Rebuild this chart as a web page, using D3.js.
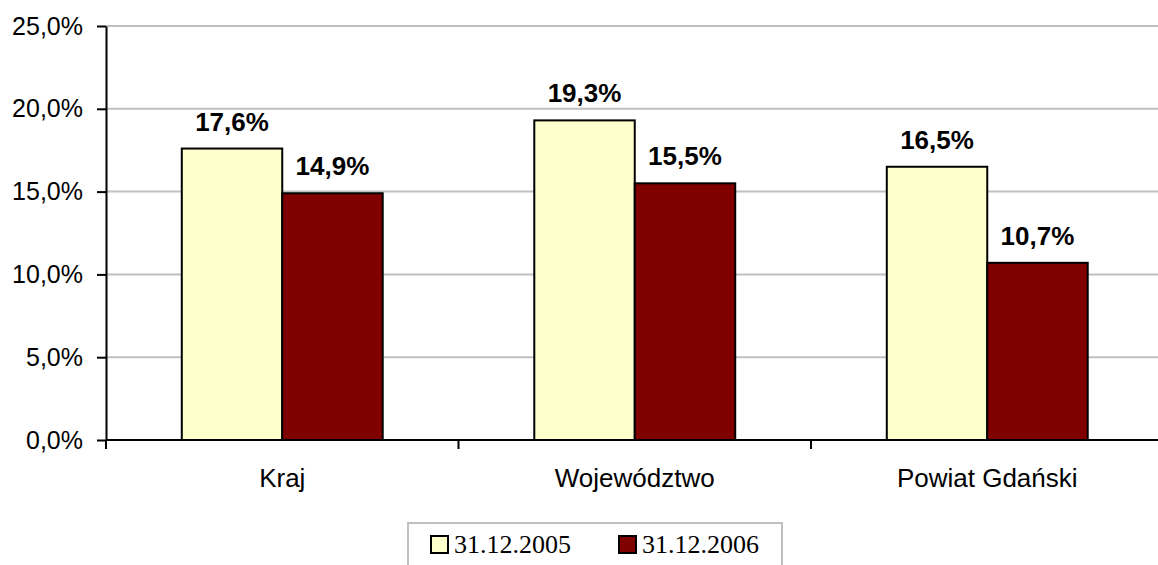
<!DOCTYPE html>
<html>
<head>
<meta charset="utf-8">
<script src="https://cdn.jsdelivr.net/npm/d3@7"></script>
<style>
  body { margin: 0; background: #fff; }
  svg { display: block; }
  .grid line { stroke: #c0c0c0; stroke-width: 2; }
  .axis path, .axis line { stroke: #000; stroke-width: 2; }
  .axis text { font-family: "Liberation Sans", Arial, sans-serif; font-size: 25px; fill: #000; }
  .axis .cl { font-size: 26px; }
  .val { font-family: "Liberation Sans", Arial, sans-serif; font-size: 26px; font-weight: bold; }
  .legend text { font-family: "Liberation Serif", "Times New Roman", serif; font-size: 26px; }
</style>
</head>
<body>
<script>
var width = 1158,
    height = 565;

// data
var categories = ["Kraj", "Województwo", "Powiat Gdański"];
var series = ["31.12.2005", "31.12.2006"];
var values2005 = [0.176, 0.193, 0.165];
var values2006 = [0.149, 0.155, 0.107];
var yTicks = [0, 0.05, 0.10, 0.15, 0.20, 0.25];
var colors = ["#ffffcc", "#800000"];

var margin = {top: 26, left: 106, bottom: 125};
var plotRight = 1163.5;

var pl = d3.formatLocale({decimal: ",", thousands: " ", grouping: [3], currency: ["", " zł"]});
var pct = pl.format(".1%");

var svg = d3.select("body").append("svg")
    .attr("width", width)
    .attr("height", height);

var y = d3.scaleLinear()
    .domain([0, 0.25])
    .range([height - margin.bottom, margin.top]);

var x0 = d3.scaleBand()
    .domain(categories)
    .range([margin.left, plotRight]);

var x1 = d3.scaleBand()
    .domain(series)
    .range([x0.bandwidth() * 0.215, x0.bandwidth() * 0.785]);

// gridlines
svg.append("g")
    .attr("class", "grid")
  .selectAll("line")
  .data(yTicks.slice(1))
  .enter().append("line")
    .attr("x1", margin.left)
    .attr("x2", plotRight)
    .attr("y1", function(d) { return y(d); })
    .attr("y2", function(d) { return y(d); });

var rows = categories.map(function(c, i) {
  return {cat: c, vals: [values2005[i], values2006[i]]};
});

var groups = svg.selectAll(".grp")
  .data(rows)
  .enter().append("g")
    .attr("class", "grp")
    .attr("transform", function(d) { return "translate(" + x0(d.cat) + ",0)"; });

groups.selectAll("rect")
  .data(function(d) { return d.vals.map(function(v, j) { return {s: series[j], v: v, j: j}; }); })
  .enter().append("rect")
    .attr("x", function(d) { return x1(d.s); })
    .attr("width", x1.bandwidth())
    .attr("y", function(d) { return y(d.v); })
    .attr("height", function(d) { return y(0) - y(d.v); })
    .attr("fill", function(d) { return colors[d.j]; })
    .attr("stroke", "#000")
    .attr("stroke-width", 2);

groups.selectAll("text")
  .data(function(d) { return d.vals.map(function(v, j) { return {s: series[j], v: v}; }); })
  .enter().append("text")
    .attr("class", "val")
    .attr("text-anchor", "middle")
    .attr("x", function(d) { return x1(d.s) + x1.bandwidth() / 2; })
    .attr("y", function(d) { return y(d.v) - 18; })
    .text(function(d) { return pct(d.v); });

// y axis
svg.append("g")
    .attr("class", "axis")
    .attr("transform", "translate(" + margin.left + ",0)")
    .call(d3.axisLeft(y).tickValues(yTicks).tickSize(9).tickSizeOuter(0).tickPadding(14).tickFormat(pct));

// x axis line and category ticks
var xa = svg.append("g").attr("class", "axis");
xa.append("line")
    .attr("x1", margin.left)
    .attr("x2", plotRight)
    .attr("y1", y(0))
    .attr("y2", y(0));
xa.selectAll(".ct")
  .data(categories.concat(["end"]))
  .enter().append("line")
    .attr("class", "ct")
    .attr("x1", function(d, i) { return margin.left + i * x0.bandwidth(); })
    .attr("x2", function(d, i) { return margin.left + i * x0.bandwidth(); })
    .attr("y1", y(0))
    .attr("y2", y(0) + 9);
xa.selectAll(".cl")
  .data(categories)
  .enter().append("text")
    .attr("class", "cl")
    .attr("text-anchor", "middle")
    .attr("x", function(d) { return x0(d) + x0.bandwidth() / 2; })
    .attr("y", 487)
    .text(function(d) { return d; });

// legend
var legend = svg.append("g").attr("class", "legend");
legend.append("rect")
    .attr("x", 408)
    .attr("y", 523)
    .attr("width", 374)
    .attr("height", 60)
    .attr("fill", "#fff")
    .attr("stroke", "#c0c0c0")
    .attr("stroke-width", 2);

var li = legend.selectAll(".li")
  .data(series)
  .enter().append("g")
    .attr("class", "li")
    .attr("transform", function(d, i) { return "translate(" + (431 + i * 188) + ",0)"; });
li.append("rect")
    .attr("x", 0)
    .attr("y", 536)
    .attr("width", 17)
    .attr("height", 17)
    .attr("fill", function(d, i) { return colors[i]; })
    .attr("stroke", "#000")
    .attr("stroke-width", 2);
li.append("text")
    .attr("x", 23)
    .attr("y", 553)
    .text(function(d) { return d; });
</script>
</body>
</html>
